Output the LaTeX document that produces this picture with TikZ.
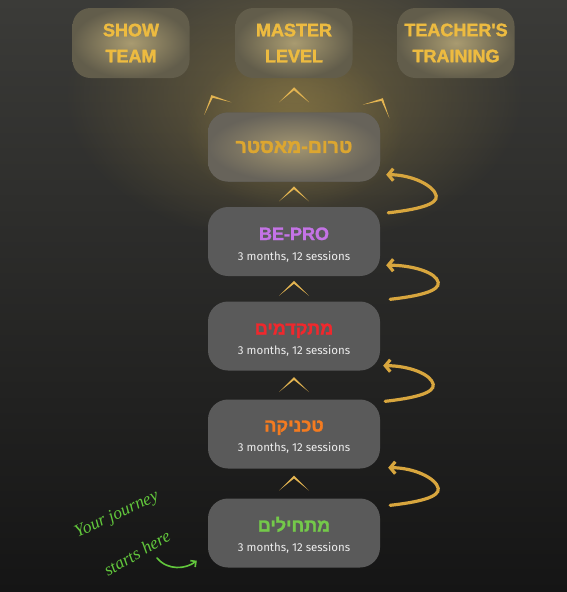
\documentclass[tikz,border=0pt]{standalone}
\usepackage{fontspec}
\setmainfont{Liberation Sans}
\newfontfamily\hebfont{Liberation Sans Bold}[Script=Hebrew, FakeBold=1.5]
\newfontfamily\latbold{Liberation Sans Bold}[FakeBold=1.8]
\newfontfamily\subfont{Fira Sans}
\newfontfamily\handfont{Liberation Serif Italic}
\TeXXeTstate=1
\usetikzlibrary{fadings,arrows.meta,calc}
\definecolor{bgtop}{HTML}{3B3B38}
\definecolor{bgbot}{HTML}{151515}
\definecolor{glowcol}{HTML}{9A8548}
\definecolor{goldtxt}{HTML}{EDBB40}
\definecolor{pretxt}{HTML}{DCA630}
\definecolor{stagegray}{HTML}{5A5A5A}
\definecolor{bepurple}{HTML}{C473E6}
\definecolor{advred}{HTML}{F0282D}
\definecolor{techorange}{HTML}{F47B20}
\definecolor{beggreen}{HTML}{74C94A}
\definecolor{handgreen}{HTML}{62C73C}
\definecolor{curlgold}{HTML}{D8A63E}
\definecolor{chevgold}{HTML}{E3B451}
\definecolor{subwhite}{HTML}{EDEDED}
\definecolor{topinner}{HTML}{A99B70}
\definecolor{topouter}{HTML}{625D4B}
\definecolor{preinner}{HTML}{A29570}
\definecolor{preouter}{HTML}{67635A}
\tikzfading[name=glowfade, inner color=transparent!0, outer color=transparent!100]
\begin{document}
\begin{tikzpicture}[x=1pt,y=-1pt,
  topbox/.style={rounded corners=18pt, minimum width=117pt, minimum height=70pt,
    shade, inner color=topinner, outer color=topouter, draw=none,
    align=center, text=goldtxt, font=\latbold\fontsize{18}{26}\selectfont},
  stagebox/.style={rounded corners=20pt, minimum width=172pt, minimum height=69pt,
    fill=stagegray, draw=none},
  prebox/.style={stagebox, shade, inner color=preinner, outer color=preouter,
    text=pretxt, font=\hebfont\fontsize{19.5}{22}\selectfont},
  stitle/.style={anchor=base, inner sep=0pt, font=\hebfont\fontsize{18}{22}\selectfont},
  ssub/.style={anchor=base, inner sep=0pt, text=subwhite, font=\subfont\fontsize{11.5}{13}\selectfont},
  curly/.style={draw=curlgold, line width=3.2pt, line cap=round,
    -{Straight Barb[length=5pt,width=12pt]}},
  curlyto/.style={to path={.. controls +(27,-3) and +(2,9) .. ($(\tikztostart)+(48,-17)$)
     .. controls +(-2,-10) and +(26,0) .. (\tikztotarget) \tikztonodes}},
  chev/.pic={\fill[chevgold] (-15,7) -- (0,-8) -- (15,7) -- (0,-5) -- cycle;},
  handtext/.style={text=handgreen, inner sep=0pt,
    font=\handfont\fontsize{17.5}{20}\selectfont},
  greenarrow/.style={draw=handgreen, line width=1.6pt, line cap=round,
    -{Straight Barb[length=4pt,width=8pt]}}
]
\useasboundingbox (0,0) rectangle (567,592);
% background
\shade[top color=bgtop, bottom color=bgbot] (0,0) rectangle (567,592);
\fill[glowcol, path fading=glowfade, fill opacity=0.55] (294,95) ellipse (230 and 150);
\fill[glowcol, path fading=glowfade, fill opacity=0.45] (294,130) ellipse (110 and 80);

% top boxes
\node[topbox] (show) at (131,43) {SHOW\\TEAM};
\node[topbox] (master) at (294,43) {MASTER\\LEVEL};
\node[topbox] (teacher) at (456,43) {TEACHER'S\\TRAINING};

% stage boxes
\node[prebox] (pre) at (294,147) {\beginR טרום-מאסטר\endR};
\node[stagebox] (bepro) at (294,241.5) {};
\node[stagebox] (adv) at (294,336) {};
\node[stagebox] (tech) at (294,434) {};
\node[stagebox] (beg) at (294,533) {};

% titles and subtitles
\node[stitle, text=bepurple] (beproT) at ($(bepro)+(0,-1.5)$) {BE-PRO};
\node[ssub] (beproS) at ($(bepro)+(0,18.5)$) {3 months, 12 sessions};
\node[stitle, text=advred] (advT) at ($(adv)+(0,-1.5)$) {\beginR מתקדמים\endR};
\node[ssub] (advS) at ($(adv)+(0,18.5)$) {3 months, 12 sessions};
\node[stitle, text=techorange] (techT) at ($(tech)+(0,-2.5)$) {\beginR טכניקה\endR};
\node[ssub] (techS) at ($(tech)+(0,17.5)$) {3 months, 12 sessions};
\node[stitle, text=beggreen] (begT) at ($(beg)+(0,-1.5)$) {\beginR מתחילים\endR};
\node[ssub] (begS) at ($(beg)+(0,18.5)$) {3 months, 12 sessions};

% chevrons
\pic at ($(master.south)!0.5!(pre.north)$) {chev};
\pic[rotate=25] at ($(pre.north west)+(7,-10)$) {chev};
\pic[rotate=-27] at ($(pre.north east)+(-1,-7)$) {chev};
\pic at ($(pre.south)!0.5!(bepro.north)$) {chev};
\pic at ($(bepro.south)!0.5!(adv.north)$) {chev};
\pic at ($(adv.south)!0.5!(tech.north)$) {chev};
\pic at ($(tech.south)!0.5!(beg.north)$) {chev};

% curly arrows
\draw[curly] ([shift={(8,6)}]bepro.north east) to[curlyto] ([shift={(6,-7)}]pre.south east);
\draw[curly] ([shift={(10,-2)}]adv.north east) to[curlyto] ([shift={(6,-11)}]bepro.south east);
\draw[curly] ([shift={(5,2)}]tech.north east) to[curlyto] ([shift={(3,-5)}]adv.south east);
\draw[curly] ([shift={(10,7)}]beg.north east) to[curlyto] ([shift={(8,-1)}]tech.south east);

% handwriting
\node[handtext, rotate=25] (hand1) at (117,515) {Your journey};
\node[handtext, rotate=30] (hand2) at (137,553) {starts here};
\coordinate (gstart) at (157,558);
\draw[greenarrow] (gstart) .. controls (168,571) and (186,569) .. ([shift={(-11,-7)}]beg.south west);
\end{tikzpicture}
\end{document}
